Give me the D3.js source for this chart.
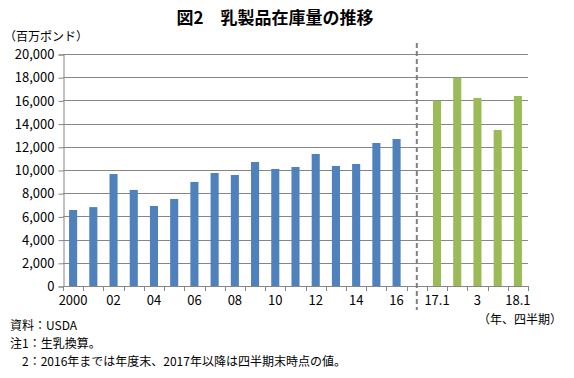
<!DOCTYPE html>
<html>
<head>
<meta charset="utf-8">
<script src="https://cdn.jsdelivr.net/npm/d3@7"></script>
<style>
  body { margin: 0; background: #fff; }
  svg text { font-family: "Noto Sans CJK JP", "Noto Sans", sans-serif; }
</style>
</head>
<body>
<div id="container"></div>
<script>
// data
const categories = ["2000", "01", "02", "03", "04", "05", "06", "07", "08", "09", "10",
                    "11", "12", "13", "14", "15", "16", "", "17.1", "17.2", "17.3", "17.4", "18.1"]
const yearValues = [6550, 6800, 9650, 8280, 6900, 7500, 8970, 9740, 9570, 10690, 10090,
                    10260, 11380, 10350, 10520, 12330, 12670]
const quarterValues = [15980, 17960, 16210, 13450, 16380]
const xTickLabels = {"2000": "2000", "02": "02", "04": "04", "06": "06", "08": "08", "10": "10",
                     "12": "12", "14": "14", "16": "16", "17.1": "17.1", "17.3": "3", "18.1": "18.1"}
const yTicks = d3.range(0, 20001, 2000)

const bars = yearValues.map((v, i) => ({cat: categories[i], value: v, kind: "year"}))
  .concat(quarterValues.map((v, i) => ({cat: categories[18 + i], value: v, kind: "quarter"})))

const width = 574, height = 378
const margin = {top: 54, right: 46, bottom: 92, left: 63}

const svg = d3.select("#container").append("svg")
              .attr("width", width)
              .attr("height", height)

const xScale = d3.scaleBand()
                 .domain(categories)
                 .range([margin.left, width - margin.right])
                 .paddingInner(0.6)
                 .paddingOuter(0.3)
const xStep = d3.scaleBand().domain(categories).range([margin.left, width - margin.right])
const yScale = d3.scaleLinear()
                 .domain([0, 20000])
                 .range([height - margin.bottom, margin.top])

// grid lines
svg.selectAll(".grid-line")
   .data(yTicks)
   .join("line")
   .attr("class", "grid-line")
   .attr("x1", margin.left)
   .attr("x2", width - margin.right)
   .attr("y1", d => Math.round(yScale(d)) + 0.5)
   .attr("y2", d => Math.round(yScale(d)) + 0.5)
   .attr("stroke", "#868686")

// y axis
const yAxis = d3.axisLeft(yScale)
                .tickValues(yTicks)
                .tickSize(5)
                .tickPadding(4)
                .tickFormat(d3.format(","))
const yG = svg.append("g")
              .attr("transform", `translate(${margin.left + 0.5}, 0.5)`)
              .call(yAxis)
yG.selectAll("line, path").attr("stroke", "#868686")
yG.selectAll("text").attr("font-size", "13px").attr("fill", "#000")
  .attr("font-family", "Liberation Sans, Arial, sans-serif")

// x axis: ticks between categories
const bottom = yScale(0)
svg.append("line")
   .attr("x1", margin.left).attr("x2", width - margin.right)
   .attr("y1", Math.round(bottom) + 0.5).attr("y2", Math.round(bottom) + 0.5)
   .attr("stroke", "#868686")
svg.selectAll(".x-tick")
   .data(categories.concat(["end"]))
   .join("line")
   .attr("class", "x-tick")
   .attr("x1", (d, i) => Math.round(margin.left + i * xStep.step()) + 0.5)
   .attr("x2", (d, i) => Math.round(margin.left + i * xStep.step()) + 0.5)
   .attr("y1", bottom)
   .attr("y2", bottom + 5)
   .attr("stroke", "#868686")
svg.selectAll(".x-label")
   .data(categories.filter(c => xTickLabels[c]))
   .join("text")
   .attr("class", "x-label")
   .attr("x", d => xStep(d) + xStep.bandwidth() / 2)
   .attr("y", bottom + 19)
   .attr("text-anchor", "middle")
   .attr("font-size", "13px")
   .attr("font-family", "Liberation Sans, Arial, sans-serif")
   .text(d => xTickLabels[d])

// bars
svg.selectAll(".bar")
   .data(bars)
   .join("rect")
   .attr("class", "bar")
   .attr("x", d => xScale(d.cat))
   .attr("y", d => yScale(d.value))
   .attr("width", xScale.bandwidth())
   .attr("height", d => bottom - yScale(d.value))
   .attr("fill", d => d.kind === "year" ? "#4F81BD" : "#9BBB59")

// dashed separator in the empty category
const sepX = xStep("") + xStep.bandwidth() / 2
svg.append("line")
   .attr("x1", sepX).attr("x2", sepX)
   .attr("y1", 43).attr("y2", 310)
   .attr("stroke", "#808080")
   .attr("stroke-width", 2)
   .attr("stroke-dasharray", "5,3")

// titles and notes
svg.append("text")
   .attr("x", 275).attr("y", 24)
   .attr("text-anchor", "middle")
   .attr("font-size", "17px")
   .attr("font-weight", "bold")
   .text("図2　乳製品在庫量の推移")
svg.append("text")
   .attr("x", 4).attr("y", 41)
   .attr("font-size", "12px")
   .text("（百万ポンド）")
svg.append("text")
   .attr("x", 562).attr("y", 324)
   .attr("text-anchor", "end")
   .attr("font-size", "12px")
   .text("（年、四半期）")

const notes = ["資料：USDA", "注1：生乳換算。", "　2：2016年までは年度末、2017年以降は四半期末時点の値。"]
svg.selectAll(".note")
   .data(notes)
   .join("text")
   .attr("class", "note")
   .attr("x", 10)
   .attr("y", (d, i) => 330 + i * 18)
   .attr("font-size", "12px")
   .text(d => d)
</script>
</body>
</html>
